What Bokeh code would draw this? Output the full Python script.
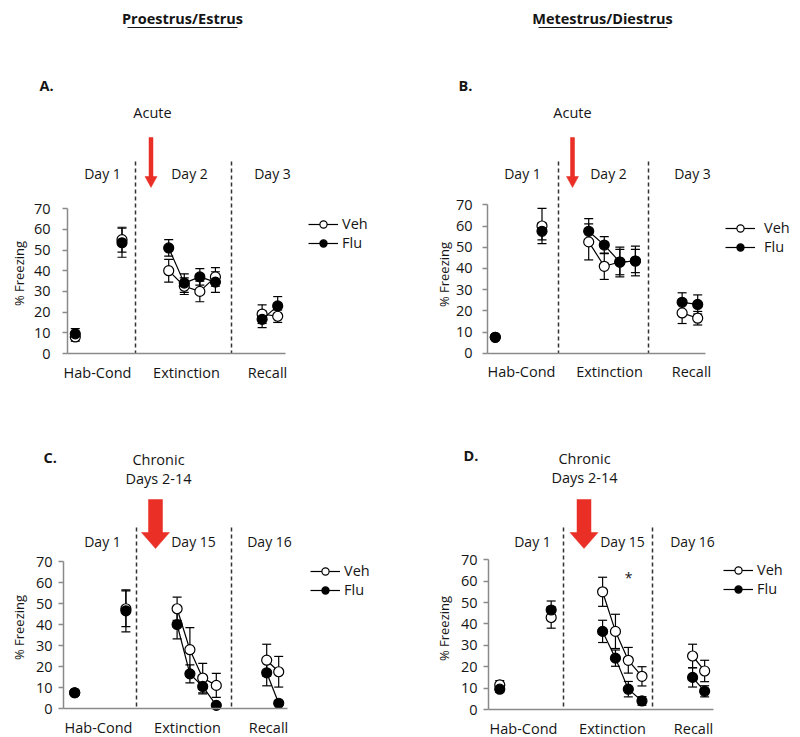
import math
from bokeh.plotting import figure
from bokeh.models import (Range1d, FixedTicker, LinearAxis, Whisker, ColumnDataSource,
                          Legend, LegendItem, TeeHead)
from bokeh.layouts import column, row
from bokeh.embed import file_html
from bokeh.resources import INLINE
from bokeh.core.properties import value

# ---------------- data ----------------
phases = ["Hab", "Cond", "Ext1", "Ext2", "Ext3", "Ext4", "Rec1", "Rec2"]
group_labels = ["Hab-Cond", "Extinction", "Recall"]
y_ticks = [0, 10, 20, 30, 40, 50, 60, 70]
series_names = ["Veh", "Flu"]

# A. Proestrus/Estrus, acute
a_veh = [8.0, 55.0, 40.0, 32.5, 30.0, 37.0, 19.0, 18.0]
a_veh_err = [2.0, 6.0, 5.5, 4.0, 5.0, 4.5, 4.5, 3.0]
a_flu = [9.5, 53.5, 51.0, 34.0, 37.0, 34.5, 16.5, 23.0]
a_flu_err = [2.5, 7.0, 4.0, 4.5, 4.0, 5.0, 4.0, 4.5]

# B. Metestrus/Diestrus, acute
b_veh = [7.5, 60.0, 52.5, 41.0, 43.0, 43.5, 19.0, 16.5]
b_veh_err = [1.0, 8.3, 8.5, 6.2, 7.0, 7.0, 5.0, 3.2]
b_flu = [7.5, 57.5, 57.5, 51.0, 43.0, 43.5, 24.0, 23.0]
b_flu_err = [1.0, 4.0, 6.0, 4.0, 6.0, 5.5, 4.5, 4.5]

# C. Proestrus/Estrus, chronic
c_veh = [7.5, 47.5, 47.5, 28.0, 14.5, 11.0, 23.0, 17.5]
c_veh_err = [1.0, 8.5, 5.5, 10.5, 7.0, 5.7, 7.6, 7.3]
c_flu = [7.5, 46.5, 40.0, 16.5, 10.5, 1.5, 17.0, 2.5]
c_flu_err = [1.0, 10.0, 6.8, 4.3, 3.5, 1.0, 6.2, 1.0]

# D. Metestrus/Diestrus, chronic
d_veh = [11.5, 43.0, 55.0, 36.5, 23.0, 15.5, 25.0, 18.0]
d_veh_err = [2.0, 5.0, 6.8, 8.0, 6.0, 4.5, 5.5, 5.0]
d_flu = [9.5, 46.5, 36.5, 24.0, 9.5, 4.0, 15.0, 8.5]
d_flu_err = [1.5, 4.2, 5.2, 3.8, 3.6, 2.0, 4.5, 2.6]

# category slot positions along the x axis (axis spans 0..14)
slots_acute = [0.5, 3.5, 6.5, 7.5, 8.5, 9.5, 12.5, 13.5]
slots_chronic = [0.7, 3.9, 7.1, 7.9, 8.7, 9.55, 12.7, 13.45]

# ---------------- style ----------------
FONT = "Open Sans"
TXT = "#151515"
GRAY = "#8a8a8a"
RED = "#ea2f26"


def make_panel(cfg, veh, veh_err, flu, flu_err, slots):
    fx, fy, W, H = cfg["fx"], cfg["fy"], cfg["W"], cfg["H"]
    ax, ay, sx, sy = cfg["ax"], cfg["ay"], cfg["sx"], cfg["sy"]

    def dx(px):
        return (px - ax) / sx

    def dy(py):
        return (ay - py) / sy

    p = figure(width=W, height=H, output_backend="svg", toolbar_location=None,
               x_range=Range1d(dx(fx), dx(fx + W)), y_range=Range1d(dy(fy + H), dy(fy)),
               x_axis_location=None, y_axis_location=None, min_border=0,
               outline_line_color=None, background_fill_color="white",
               border_fill_color="white")
    p.xgrid.visible = False
    p.ygrid.visible = False

    def txt(xs, ys, texts, size="14px", align="center", style="normal", angle=0.0):
        p.text(x=[dx(v) for v in xs], y=[dy(v) for v in ys], text=texts,
               text_font=value(FONT), text_font_size=size, text_align=align,
               text_baseline="middle", text_color=TXT, text_font_style=style, angle=angle)

    # axes
    yax = LinearAxis(fixed_location=0, bounds=(0, 70), ticker=FixedTicker(ticks=y_ticks),
                     axis_line_color=GRAY, axis_line_width=1.5,
                     major_tick_line_color=GRAY, major_tick_line_width=1.5,
                     major_tick_in=0, major_tick_out=5, minor_tick_line_color=None,
                     major_label_standoff=cfg["ystand"], major_label_text_font=FONT,
                     major_label_text_font_size="14.5px", major_label_text_color=TXT)
    p.add_layout(yax, "left")
    cat_pos = [round(dx(v), 3) for v in cfg["cat_px"]]
    xax = LinearAxis(fixed_location=0, bounds=(0, 14), ticker=FixedTicker(ticks=cat_pos),
                     major_label_overrides={pos: lab for pos, lab in zip(cat_pos, group_labels)},
                     axis_line_color=GRAY, axis_line_width=1.5,
                     major_tick_line_color=None, minor_tick_line_color=None,
                     major_label_standoff=3, major_label_text_font=FONT,
                     major_label_text_font_size="14.5px", major_label_text_color=TXT)
    p.add_layout(xax, "below")

    # y axis title
    txt([cfg["ylab"][0]], [cfg["ylab"][1]], ["% Freezing"], size="13px", angle=math.pi / 2)

    # dashed phase separators
    p.segment(x0=[dx(v) for v in cfg["dash_px"]], y0=[dy(cfg["dash_top"])] * 2,
              x1=[dx(v) for v in cfg["dash_px"]], y1=[0, 0],
              line_color="#333333", line_width=1.5, line_dash="4 3")

    # day labels
    txt([d[0] for d in cfg["days"]], [d[1] for d in cfg["days"]], cfg["day_names"], size="14px")

    # treatment text
    for (tx, ty, tt) in cfg["treat"]:
        txt([tx], [ty], [tt], size="14.5px")

    # panel letter
    txt([cfg["letter"][0]], [cfg["letter"][1]], [cfg["letter"][2]], size="14.5px",
        align="left", style="bold")

    # header
    if cfg.get("header"):
        hx, hy, ht, ul0, ul1 = cfg["header"]
        txt([hx], [hy], [ht], size="14.5px", style="bold")
        p.segment(x0=[dx(ul0)], y0=[dy(hy + 9)], x1=[dx(ul1)], y1=[dy(hy + 9)],
                  line_color=TXT, line_width=1.2)

    # red arrow
    p.patches(xs=[[dx(v[0]) for v in poly] for poly in cfg["arrow"]],
              ys=[[dy(v[1]) for v in poly] for poly in cfg["arrow"]],
              fill_color=RED, line_color=RED, line_width=0.5)

    if cfg.get("star"):
        txt([cfg["star"][0]], [cfg["star"][1]], ["*"], size="14px")

    # data series
    items = []
    for name, vals, errs, fill in ((series_names[0], veh, veh_err, "white"),
                                   (series_names[1], flu, flu_err, "black")):
        src = ColumnDataSource(dict(x=slots, y=vals,
                                    lo=[v - e for v, e in zip(vals, errs)],
                                    up=[v + e for v, e in zip(vals, errs)]))
        w = Whisker(source=src, base="x", upper="up", lower="lo", dimension="height",
                    line_color="black", line_width=1.2, level="underlay",
                    upper_head=TeeHead(size=9, line_color="black", line_width=1.2),
                    lower_head=TeeHead(size=9, line_color="black", line_width=1.2))
        p.add_layout(w)
        ln = p.line(slots[2:6], vals[2:6], line_color="black", line_width=1.2)
        p.line(slots[6:8], vals[6:8], line_color="black", line_width=1.2)
        pts = p.scatter("x", "y", source=src, marker="circle", size=10,
                        fill_color=fill, line_color="black", line_width=1.2)
        items.append(LegendItem(label=name, renderers=[ln, pts]))

    lx, ly = cfg["legend"]
    loc = (lx - fx, H - ((ly - fy) - 9) - 36)
    leg = Legend(items=items, location=loc, orientation="vertical",
                 glyph_width=30, glyph_height=18, label_height=18, spacing=0,
                 padding=0, margin=0, label_standoff=cfg.get("lstand", 4),
                 label_text_font=FONT, label_text_font_size="14.5px",
                 label_text_color=TXT, border_line_color=None,
                 background_fill_alpha=0)
    p.add_layout(leg)
    return p


def thin_arrow(cx):
    return [[(cx - 2, 137), (cx + 2, 137), (cx + 2, 177), (cx - 2, 177)],
            [(cx - 6, 176), (cx + 6, 176), (cx, 187)]]


def big_arrow(cx):
    return [[(cx - 7, 499), (cx + 7, 499), (cx + 7, 533), (cx - 7, 533)],
            [(cx - 14, 532), (cx + 14, 532), (cx, 548)]]


cfgA = dict(fx=0, fy=0, W=400, H=395, ax=67, ay=353, sx=15.57, sy=2.07, ystand=12,
            cat_px=[97, 186, 267], ylab=(18, 273), dash_px=[135, 231], dash_top=161,
            days=[(102, 173), (189, 173), (272, 173)], day_names=["Day 1", "Day 2", "Day 3"],
            treat=[(152, 112, "Acute")], letter=(39, 85, "A."),
            header=(182, 18, "Proestrus/Estrus", 127, 237),
            arrow=thin_arrow(150.5), legend=(308, 225))
cfgB = dict(fx=400, fy=0, W=400, H=395, ax=487, ay=352.7, sx=15.57, sy=2.12, ystand=10,
            cat_px=[521, 609, 691], ylab=(443, 274), dash_px=[558, 648], dash_top=161,
            days=[(522, 173), (608, 173), (692, 173)], day_names=["Day 1", "Day 2", "Day 3"],
            treat=[(572, 112, "Acute")], letter=(458, 85, "B."),
            header=(602, 18, "Metestrus/Diestrus", 538, 667),
            arrow=thin_arrow(572), legend=(725, 229), lstand=9)
cfgC = dict(fx=0, fy=395, W=400, H=342, ax=63, ay=708, sx=16.0, sy=2.1, ystand=6,
            cat_px=[98, 187, 268], ylab=(18, 627), dash_px=[136, 231], dash_top=527,
            days=[(102, 541), (193, 541), (269, 541)], day_names=["Day 1", "Day 15", "Day 16"],
            treat=[(158, 459, "Chronic"), (158, 478, "Days 2-14")], letter=(43, 457, "C."),
            arrow=big_arrow(155), legend=(310, 572))
cfgD = dict(fx=400, fy=395, W=400, H=342, ax=488, ay=709, sx=16.07, sy=2.14, ystand=6,
            cat_px=[523, 612, 693], ylab=(443, 628), dash_px=[563, 652], dash_top=527,
            days=[(532, 541), (622, 541), (692, 541)], day_names=["Day 1", "Day 15", "Day 16"],
            treat=[(584, 458, "Chronic"), (584, 477, "Days 2-14")], letter=(463, 455, "D."),
            arrow=big_arrow(583.5), legend=(723, 571), star=(628, 577))

pA = make_panel(cfgA, a_veh, a_veh_err, a_flu, a_flu_err, slots_acute)
pB = make_panel(cfgB, b_veh, b_veh_err, b_flu, b_flu_err, slots_acute)
pC = make_panel(cfgC, c_veh, c_veh_err, c_flu, c_flu_err, slots_chronic)
pD = make_panel(cfgD, d_veh, d_veh_err, d_flu, d_flu_err, slots_chronic)

layout = column(row(pA, pB, spacing=0), row(pC, pD, spacing=0), spacing=0)
open("out.html", "w").write(file_html(layout, INLINE))
